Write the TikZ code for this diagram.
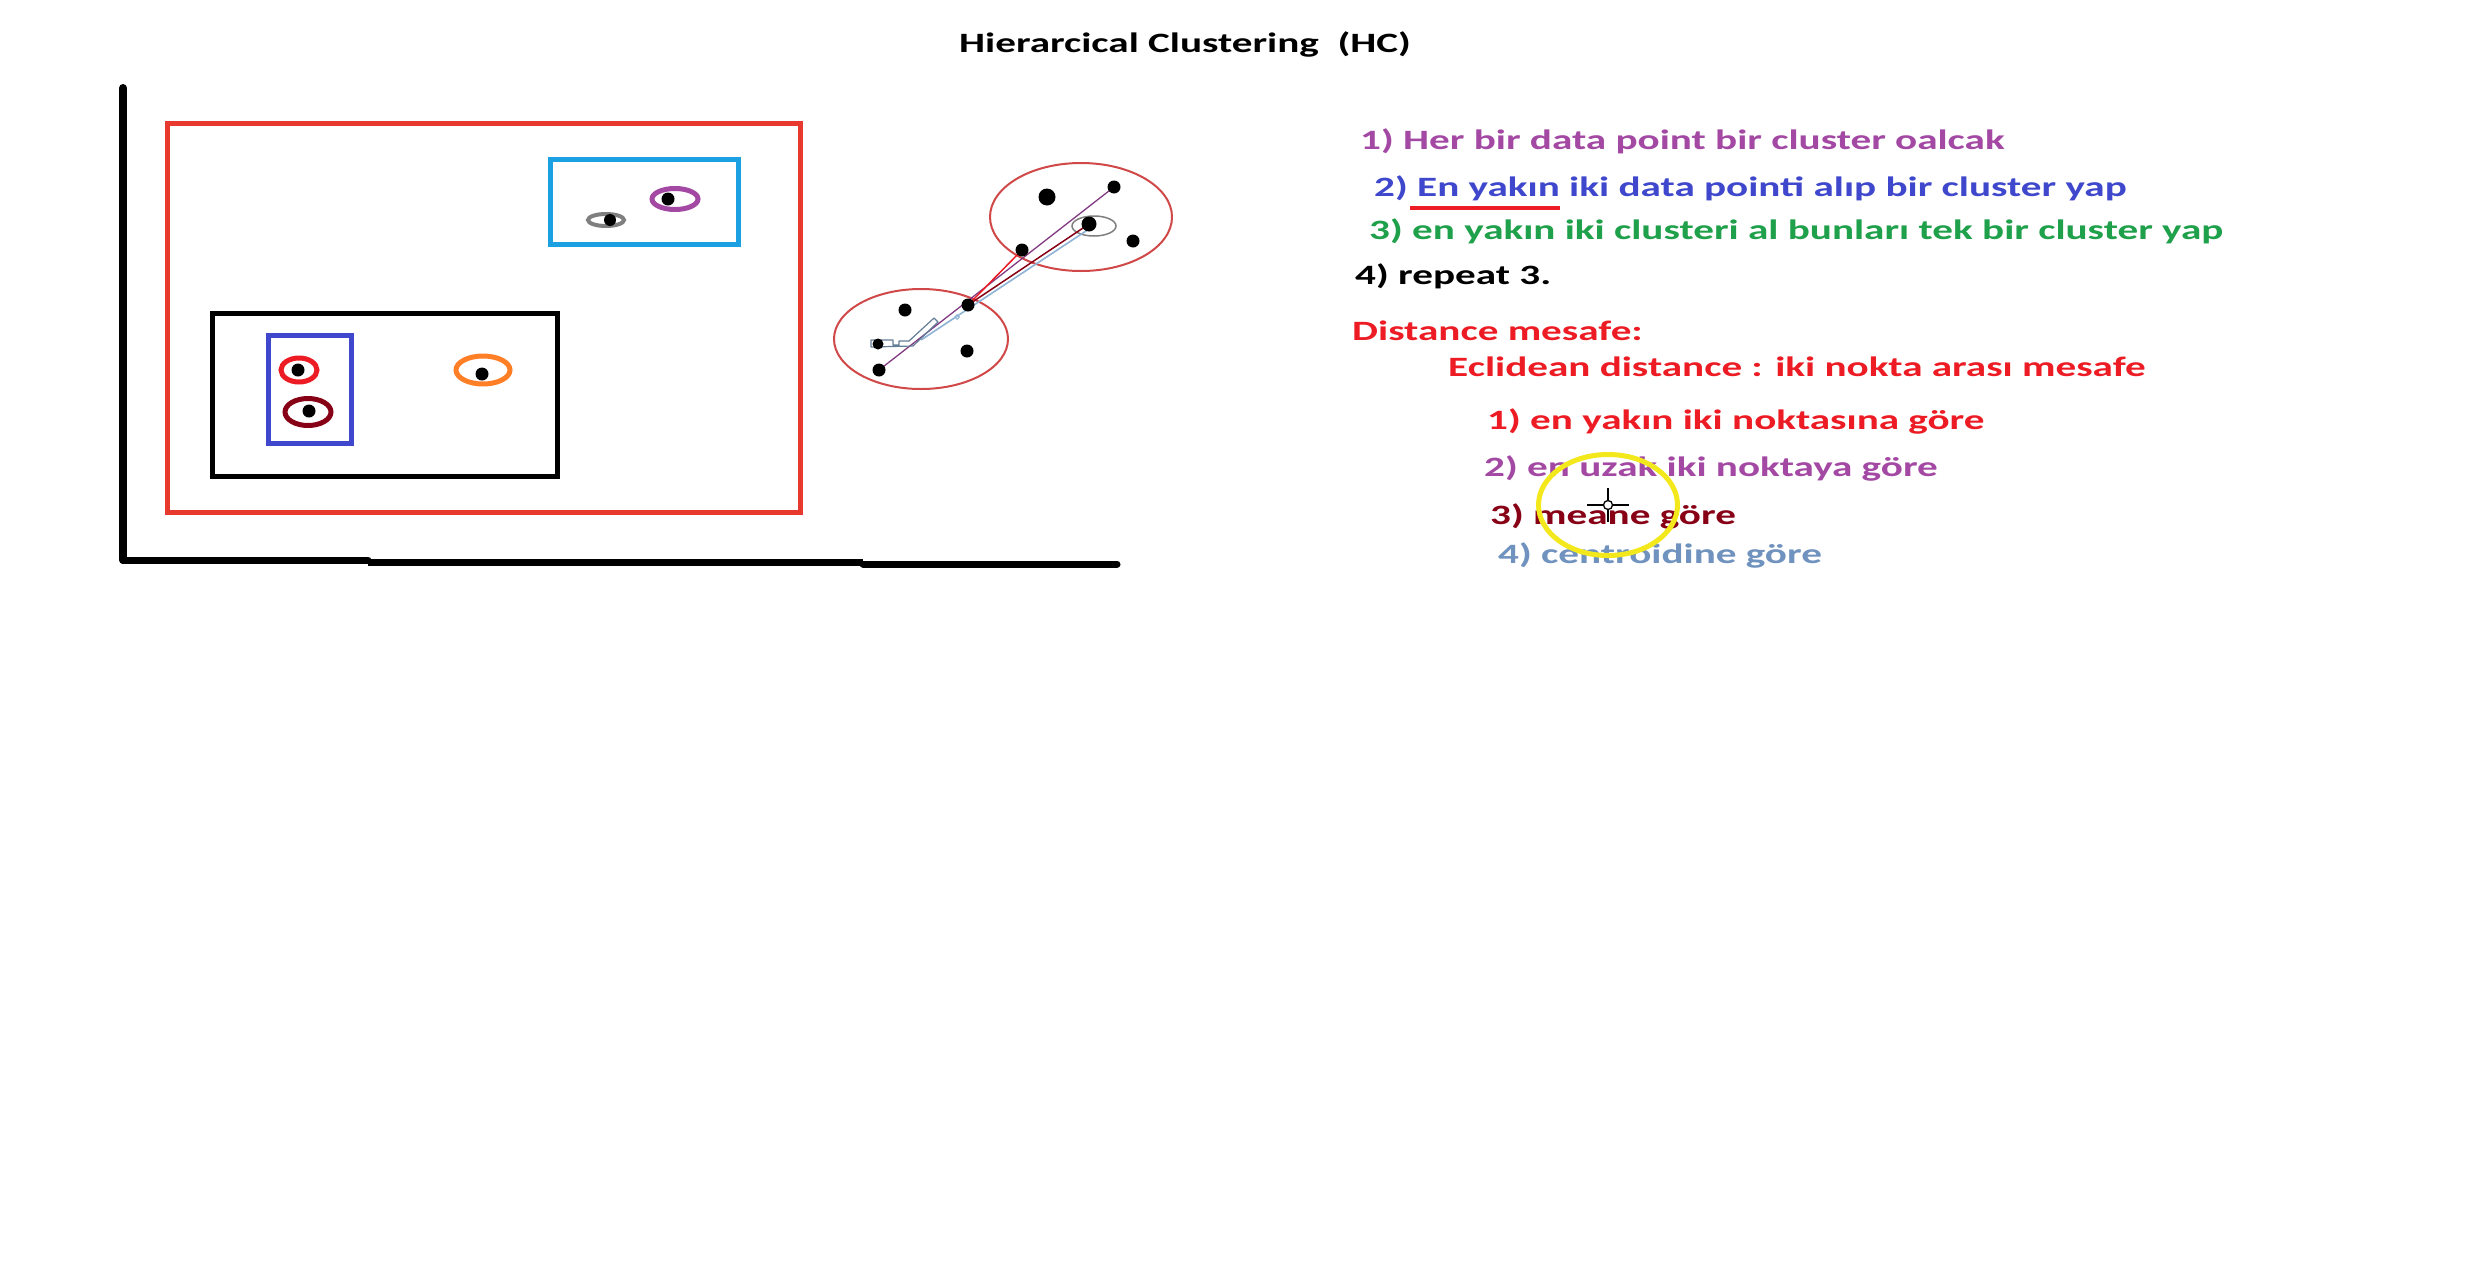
\documentclass[tikz,border=0pt]{standalone}
\usepackage{fontspec}
\newfontfamily\calib[FakeStretch=1.47]{Carlito}
\usetikzlibrary{shapes.geometric}
\definecolor{cpurple}{HTML}{A349A4}
\definecolor{cblue}{HTML}{3F48CC}
\definecolor{cgreen}{HTML}{1FA04A}
\definecolor{cred}{HTML}{ED1C24}
\definecolor{cdarkred}{HTML}{880015}
\definecolor{csteel}{HTML}{7092BE}
\definecolor{ccyan}{HTML}{1BA1E2}
\definecolor{corange}{HTML}{FF7F27}
\definecolor{cgray}{HTML}{7F7F7F}
\definecolor{cyellow}{HTML}{F2E81C}
\definecolor{crect}{HTML}{E8392E}
\definecolor{cthin}{HTML}{D04848}
\definecolor{clight}{HTML}{8FB3D6}
\begin{document}
\begin{tikzpicture}[x=1pt,y=-1pt,
  txt/.style={anchor=base west, inner sep=0pt, font=\calib\bfseries\fontsize{28}{34}\selectfont},
  dot/.style={circle, fill=black, inner sep=0pt, minimum size=#1},
  dot/.default=13,
  ring/.style={ellipse, draw=#1, line width=5pt, inner sep=0pt},
  box/.style={draw=#1, line width=5pt},
  blob/.style={ellipse, draw=cthin, line width=2pt, inner sep=0pt}
]
\useasboundingbox (0,0) rectangle (2473,1280);
\fill[white] (0,0) rectangle (2473,1280);

% title
\node[txt, text=black] (title) at (959,52) {Hierarcical Clustering\ \ (HC)};

% axes
\coordinate (ytop) at (123,88);
\coordinate (orig) at (123,560);
\coordinate (xa) at (368,560);
\coordinate (xb) at (368,562);
\coordinate (xc) at (863,562);
\coordinate (xd) at (863,564);
\coordinate (xend) at (1117,564);
\draw[line width=8pt, line cap=round] (ytop) -- (orig);
\draw[line width=7pt, line cap=round] (orig) -- (xa);
\draw[line width=7pt] (xb) -- (xc);
\draw[line width=7pt, line cap=round] (xd) -- (xend);

% cluster boxes
\draw[box=crect] (167,123) rectangle (800,512);
\draw[box=ccyan] (550,159) rectangle (738,244);
\draw[box=black] (212,313) rectangle (557,476);
\draw[box=cblue] (268,335) rectangle (351,443);

% rings and points
\node[ring=cred, minimum width=36pt, minimum height=24pt] (r1) at (299,370) {};
\node[dot] (p1) at (298,370) {};
\node[ring=cdarkred, minimum width=46pt, minimum height=27pt] (r2) at (308,412) {};
\node[dot] (p2) at (309,411) {};
\node[ring=corange, minimum width=54pt, minimum height=28pt] (r3) at (483,370) {};
\node[dot] (p3) at (482,374) {};
\node[ring=cgray, line width=4pt, minimum width=36pt, minimum height=12pt] (r4) at (606,220) {};
\node[dot=12] (p4) at (610,220) {};
\node[ring=cpurple, minimum width=46pt, minimum height=21pt] (r5) at (675,199) {};
\node[dot] (p5) at (668,199) {};

% two clusters on the right
\node[blob, minimum width=182pt, minimum height=108pt] (cu) at (1081,217) {};
\node[blob, minimum width=174pt, minimum height=100pt] (cl) at (921,339) {};
\node[ellipse, draw=cgray, line width=1.5pt, inner sep=0pt, minimum width=44pt, minimum height=20pt] (cen) at (1094,226) {};

\coordinate (pu1) at (1047,197);
\coordinate (pu2) at (1114,187);
\coordinate (pu3) at (1089,224);
\coordinate (pu4) at (1133,241);
\coordinate (pu5) at (1022,250);
\coordinate (pl1) at (905,310);
\coordinate (pl2) at (968,305);
\coordinate (pl3) at (878,344);
\coordinate (pl4) at (967,351);
\coordinate (pl5) at (879,370);
\coordinate (lb1) at (921,340);
\coordinate (lb2) at (1089,229);

\draw[cpurple!80!black, line width=1.3pt] (pl5) -- (pu2);
\draw[clight, line width=1.6pt] (lb1) -- (lb2);
\draw[cred, line width=1.5pt] (pl2) -- (pu5);
\draw[cdarkred, line width=1.5pt] (pl2) -- (pu3);
% cursor ghost
\draw[clight!70!black, line width=1.2pt, line join=round]
  (871,340) -- (893,340) -- (893,345) -- (899,345) -- (899,341) -- (909,341)
  -- (934,318) -- (938,322) -- (913,346) -- (871,347) -- cycle;
\node[diamond, draw=clight, line width=1pt, inner sep=0pt, minimum size=5pt] (dm) at (957,317) {};

\node[dot=17] (u1) at (pu1) {};
\node[dot=13] (u2) at (pu2) {};
\node[dot=15] (u3) at (pu3) {};
\node[dot=13] (u4) at (pu4) {};
\node[dot=13] (u5) at (pu5) {};
\node[dot=13] (l1) at (pl1) {};
\node[dot=13] (l2) at (pl2) {};
\node[dot=11] (l3) at (pl3) {};
\node[dot=13] (l4) at (pl4) {};
\node[dot=13] (l5) at (pl5) {};

% text on the right
\node[txt, text=cpurple] (t1) at (1360,149) {1) Her bir data point bir cluster oalcak};
\node[txt, text=cblue] (t2) at (1374,196) {2) En yakın iki data pointi alıp bir cluster yap};
\node[txt, text=cgreen] (t3) at (1369,239) {3) en yakın iki clusteri al bunları tek bir cluster yap};
\node[txt, text=black] (t4) at (1355,284) {4) repeat 3.};
\coordinate (ul1) at (1410,208);
\coordinate (ul2) at (1560,208);
\draw[cred, line width=4pt] (ul1) -- (ul2);

\node[txt, text=cred] (d0) at (1352,340) {Distance mesafe:};
\node[txt, text=cred] (d1) at (1448,376) {Eclidean distance : iki nokta arası mesafe};
\node[txt, text=cred] (m1) at (1487,429) {1) en yakın iki noktasına göre};
\node[txt, text=cpurple] (m2) at (1484,476) {2) en uzak iki noktaya göre};
\node[txt, text=cdarkred] (m3) at (1490,524) {3) meane göre};
\node[txt, text=csteel] (m4) at (1498,563) {4) centroidine göre};

% cursor highlight
\node[ellipse, draw=cyellow, line width=5pt, inner sep=0pt, minimum width=139pt, minimum height=101pt] (hl) at (1608,505) {};
\node[circle, draw=black, line width=1.3pt, inner sep=0pt, minimum size=9pt] (cur) at (1608,505) {};
\draw[line width=1.5pt] (cur.north) -- ++(0,-12);
\draw[line width=1.5pt] (cur.south) -- ++(0,12);
\draw[line width=1.5pt] (cur.west) -- ++(-16,0);
\draw[line width=1.5pt] (cur.east) -- ++(16,0);
\end{tikzpicture}
\end{document}
